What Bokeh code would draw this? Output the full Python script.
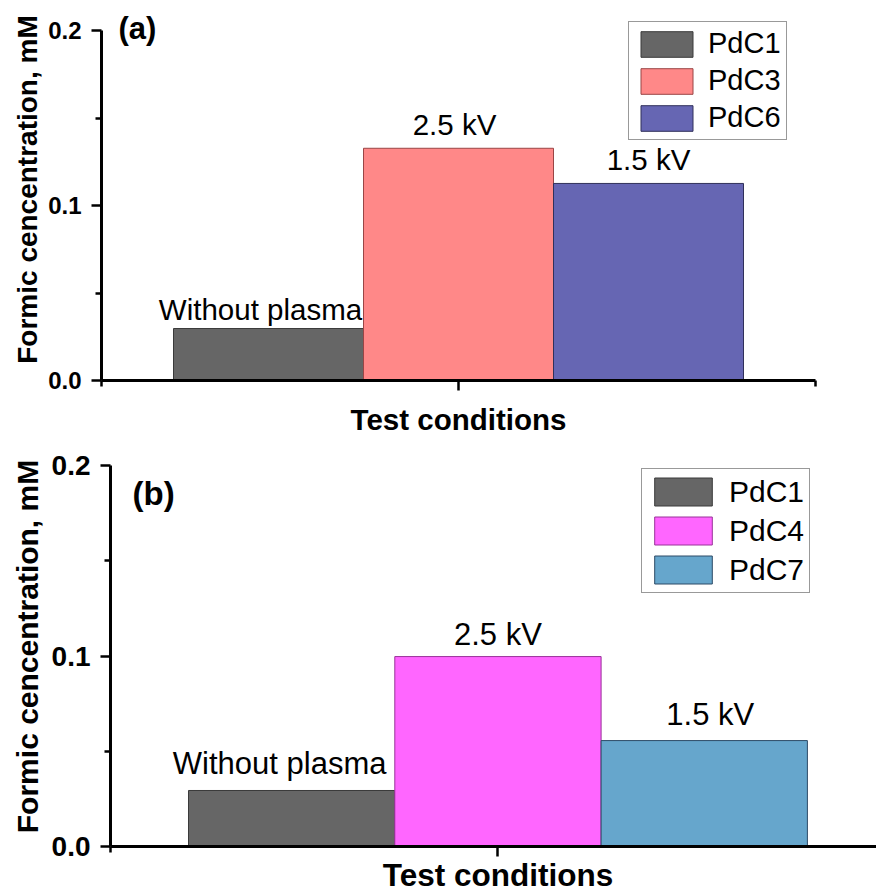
from math import pi
from bokeh.plotting import figure
from bokeh.models import ColumnDataSource, Range1d, FixedTicker, PrintfTickFormatter, Label
from bokeh.layouts import column
from bokeh.core.properties import value
from bokeh.embed import file_html
from bokeh.resources import INLINE

# ---------------- data ----------------
samples_a = ["PdC1", "PdC3", "PdC6"]
values_a = [0.0297, 0.1327, 0.1126]
conditions_a = ["Without plasma", "2.5 kV", "1.5 kV"]

samples_b = ["PdC1", "PdC4", "PdC7"]
values_b = [0.0294, 0.0997, 0.0556]
conditions_b = ["Without plasma", "2.5 kV", "1.5 kV"]

y_ticks = [0.0, 0.1, 0.2]
y_minor_ticks = [0.05, 0.15]
x_title = "Test conditions"
y_title = "Formic cencentration, mM"
panel_tags = ["(a)", "(b)"]

# ---------------- styles ----------------
colors_a = ["#666666", "#FF8888", "#6666B3"]
edges_a = ["#3a3a3a", "#9a4545", "#30305a"]
colors_b = ["#666666", "#FF66FF", "#66A6CC"]
edges_b = ["#3a3a3a", "#993399", "#2c4a66"]
FONT = "Liberation Sans"


def make_panel(samples, vals, conds, colors, edges, tag, cfg):
    n = len(samples)
    xs = list(range(n))
    src = ColumnDataSource(dict(x=xs, top=vals, sample=samples, cond=conds,
                                color=colors, edge=edges, xoff=cfg["xoff"],
                                yoff=cfg["yoff"]))
    W, H = cfg["width"], cfg["height"]
    # the whole canvas is the plot frame; axes are pinned inside it
    px_x = cfg["px_x"]      # pixels per bar
    px_y = cfg["px_y"]      # pixels per unit of y
    x0 = cfg["bar0"]        # canvas x of bar 0 centre
    y0 = cfg["zero"]        # canvas y (from top) of y = 0
    x_start, x_end = -x0 / px_x, (W - x0) / px_x
    xr = Range1d(x_start, x_end)
    yr = Range1d(-(H - y0) / px_y, y0 / px_y)
    p = figure(width=W, height=H, output_backend="svg", toolbar_location=None,
               x_range=xr, y_range=yr, min_border=0,
               min_border_left=0, min_border_right=0, min_border_top=0,
               min_border_bottom=0)
    p.outline_line_color = None
    p.xgrid.visible = False
    p.ygrid.visible = False
    p.background_fill_color = "white"

    p.vbar(x="x", top="top", width=1.0, source=src, fill_color="color",
           line_color="edge", line_width=1, legend_field="sample")
    p.text(x="x", y="top", text="cond", source=src, x_offset="xoff",
           y_offset="yoff", text_align="center", text_baseline="bottom",
           text_font=value(FONT), text_font_size=cfg["ann"], text_color="black")

    # axes
    x_left = (cfg["axis_x"] - x0) / px_x
    x_right = min(2 * 1.0 - x_left, x_end)
    minor = [x_left + 0.002]
    if x_right < x_end:
        minor.append(x_right - 0.002)
    xa = p.xaxis[0]
    xa.fixed_location = 0.0
    xa.bounds = (x_left, x_right)
    xa.ticker = FixedTicker(ticks=[1], minor_ticks=minor)
    xa.major_label_overrides = {1: ""}
    xa.major_label_standoff = 0
    ya = p.yaxis[0]
    ya.fixed_location = x_left
    ya.bounds = (y_ticks[0], y_ticks[-1])
    ya.ticker = FixedTicker(ticks=y_ticks, minor_ticks=y_minor_ticks)
    ya.formatter = PrintfTickFormatter(format="%.1f")
    ya.major_label_text_font = FONT
    ya.major_label_text_font_style = "bold"
    ya.major_label_text_font_size = cfg["tick"]
    ya.major_label_text_color = "black"
    ya.major_label_standoff = cfg["tstand"]
    for ax in (xa, ya):
        ax.axis_line_width = 3
        ax.axis_line_color = "black"
        ax.major_tick_line_width = 2.5
        ax.minor_tick_line_width = 2.5
        ax.major_tick_line_color = "black"
        ax.minor_tick_line_color = "black"
        ax.major_tick_out = 10
        ax.major_tick_in = 0
        ax.minor_tick_out = 6
        ax.minor_tick_in = 0

    # legend
    lg = p.legend[0]
    lg.location = cfg["legloc"]
    lg.glyph_width = cfg["gw"]
    lg.glyph_height = cfg["gh"]
    lg.label_height = cfg["gh"]
    lg.label_standoff = cfg["lstand"]
    lg.spacing = 4
    lg.padding = 5
    lg.margin = 0
    lg.label_text_font = FONT
    lg.label_text_font_size = cfg["leg"]
    lg.label_text_color = "black"
    lg.border_line_color = "#333333"
    lg.border_line_width = 1.5
    lg.background_fill_alpha = 1.0

    # titles (screen units measured from the canvas bottom-left)
    p.add_layout(Label(x=cfg["tagpos"][0], y=cfg["tagpos"][1], x_units="screen",
                       y_units="screen", text=tag, text_font=FONT,
                       text_font_style="bold", text_font_size=cfg["tagsize"],
                       text_color="black", text_baseline="middle", text_align="left"))
    p.add_layout(Label(x=1, y=cfg["xtitle_y"], x_units="data", y_units="screen",
                       text=x_title, text_font=FONT, text_font_style="bold",
                       text_font_size=cfg["xtsize"], text_color="black",
                       text_align="center", text_baseline="bottom"))
    p.add_layout(Label(x=cfg["ytitle"][0], y=cfg["ytitle"][1], x_units="screen",
                       y_units="screen", angle=pi / 2, text=y_title,
                       text_font=FONT, text_font_style="bold", text_color="black",
                       text_font_size=cfg["ytsize"], text_align="center",
                       text_baseline="middle"))
    return p


# canvas of panel (a): picture x 0..876, y 0..440
cfg_a = dict(width=876, height=440, px_x=190.0, px_y=1750.0, bar0=268.0, zero=380.0,
             axis_x=101.0, xoff=[-8, -4, 0], yoff=[-3, -7, -7], ann="29.5px",
             tick="24px", tstand=10, legloc=(628, 300), gw=65, gh=32, lstand=9,
             leg="29px", tagpos=(118, 412), tagsize="31px", xtitle_y=5,
             xtsize="29.5px", ytitle=(27, 251), ytsize="28px")
# canvas of panel (b): picture x 0..876, y 440..893
cfg_b = dict(width=876, height=453, px_x=206.3, px_y=1905.0, bar0=291.15, zero=406.0,
             axis_x=110.0, xoff=[-12, 0, 6], yoff=[-9, -5, -9], ann="31px",
             tick="28px", tstand=10, legloc=(641, 300), gw=72, gh=35, lstand=10,
             leg="30px", tagpos=(132, 400), tagsize="33px", xtitle_y=1,
             xtsize="31.5px", ytitle=(27, 247), ytsize="30px")

pa = make_panel(samples_a, values_a, conditions_a, colors_a, edges_a, panel_tags[0], cfg_a)
pb = make_panel(samples_b, values_b, conditions_b, colors_b, edges_b, panel_tags[1], cfg_b)

layout = column(pa, pb, spacing=0)
open("out.html", "w").write(file_html(layout, INLINE))
